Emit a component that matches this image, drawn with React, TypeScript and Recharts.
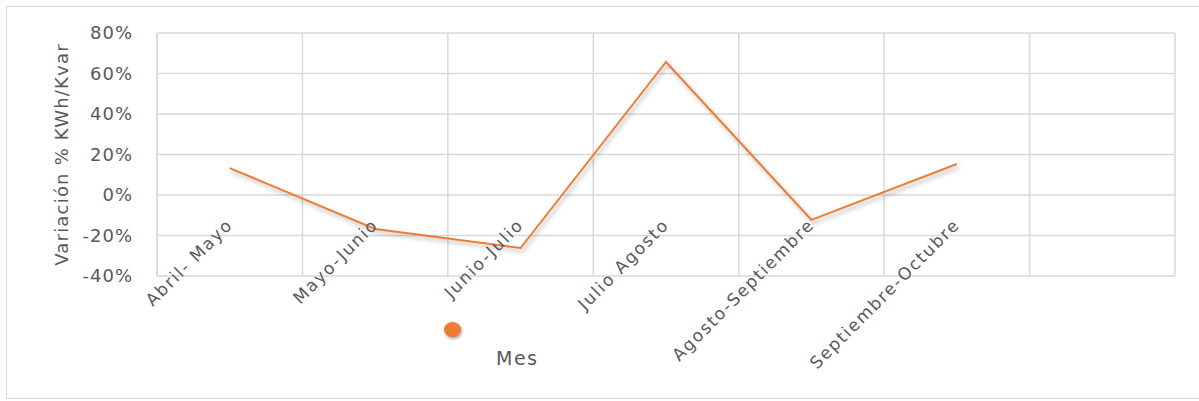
import { LineChart, Line, XAxis, YAxis, CartesianGrid, ReferenceLine } from 'recharts';

const periodos = ['Abril- Mayo', 'Mayo-Junio', 'Junio-Julio', 'Julio Agosto', 'Agosto-Septiembre', 'Septiembre-Octubre', ''];
const variacion = [0.133, -0.168, -0.262, 0.657, -0.123, 0.153];
const yTicks = [-0.4, -0.2, 0, 0.2, 0.4, 0.6, 0.8];

const ORANGE = '#ED7D31';
const GRAY_TEXT = '#595959';
const FONT = '"DejaVu Sans", sans-serif';

// points sit in the middle of each category band
const chartData = variacion.map((v, i) => ({ pos: i + 0.5, valor: v }));
const bandEdges = periodos.map((_p, i) => i).concat(periodos.length);
const bandCenters = periodos.map((_p, i) => i + 0.5).filter((_c, i) => periodos[i] !== '');

const pct = (v: number) => `${Math.round(v * 100)}%`;

const CategoryTick = (props: any) => {
    const { x, y, payload } = props;
    const label = periodos[Math.floor(payload.value)] ?? '';
    return (
        <text
            transform={`translate(${x + 4},${y - 50}) rotate(-45)`}
            textAnchor="end"
            fill={GRAY_TEXT}
            fontSize={17}
            fontFamily={FONT}
            letterSpacing={1.7}
        >
            {label}
        </text>
    );
};

// legend drawn by hand, Excel style: marker on top, series name below it
const LegendMes = () => (
    <div style={{ position: 'absolute', left: 440, top: 318, width: 120, height: 60 }}>
        <div
            style={{
                position: 'absolute', left: 4, top: 4, width: 17, height: 15, borderRadius: '50%',
                background: ORANGE, boxShadow: '1px 2px 3px rgba(0,0,0,0.35)',
            }}
        />
        <span
            style={{
                position: 'absolute', left: 56, top: 30, fontFamily: FONT, fontSize: 19,
                color: GRAY_TEXT, letterSpacing: 1.5, lineHeight: '20px',
            }}
        >
            Mes
        </span>
    </div>
);

export default function App() {
    return (
        <div style={{ position: 'absolute', left: 0, top: 0, width: 1199, height: 401, background: '#fff' }}>
            <style>{`.recharts-line-curve { filter: drop-shadow(2px 3px 2px rgba(0,0,0,0.3)); }`}</style>
            <div style={{ position: 'absolute', left: 6, top: 6, width: 1200, height: 391, border: '1.5px solid #d9d9d9' }} />
            <LineChart width={1199} height={401} data={chartData} margin={{ top: 33, right: 24, bottom: 124, left: 57 }}>
                <CartesianGrid stroke="#d9d9d9" strokeWidth={1.5} xAxisId="grid" />
                <XAxis
                    xAxisId="grid"
                    type="number"
                    dataKey="pos"
                    domain={[0, periodos.length]}
                    ticks={bandEdges}
                    hide
                />
                <XAxis
                    xAxisId="cat"
                    type="number"
                    dataKey="pos"
                    domain={[0, periodos.length]}
                    ticks={bandCenters}
                    interval={0}
                    height={1}
                    axisLine={false}
                    tickLine={false}
                    tickSize={0}
                    tickMargin={0}
                    tick={<CategoryTick />}
                />
                <YAxis
                    width={100}
                    domain={[-0.4, 0.8]}
                    ticks={yTicks}
                    tickFormatter={pct}
                    axisLine={false}
                    tickLine={false}
                    tickSize={0}
                    tickMargin={24}
                    tick={{ fill: GRAY_TEXT, fontSize: 18, fontFamily: FONT, letterSpacing: 1 }}
                    label={({ viewBox }: any) => {
                        const cx = viewBox.x + 4;
                        const cy = viewBox.y + viewBox.height / 2;
                        return (
                            <text
                                transform={`translate(${cx},${cy}) rotate(-90)`}
                                textAnchor="middle"
                                dominantBaseline="central"
                                fill={GRAY_TEXT}
                                fontSize={18}
                                fontFamily={FONT}
                                letterSpacing={1.2}
                            >
                                Variación % KWh/Kvar
                            </text>
                        );
                    }}
                />
                <ReferenceLine xAxisId="grid" x={0} stroke="#d9d9d9" strokeWidth={1.5} />
                <Line
                    xAxisId="cat"
                    type="linear"
                    dataKey="valor"
                    name="Mes"
                    stroke={ORANGE}
                    strokeWidth={2}
                    dot={false}
                    isAnimationActive={false}
                />
            </LineChart>
            <LegendMes />
        </div>
    );
}
